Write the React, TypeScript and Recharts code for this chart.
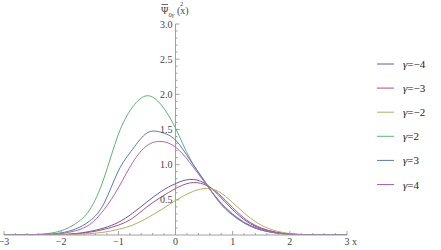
import React from 'react';
import { LineChart, Line, XAxis, YAxis, ReferenceLine, ReferenceDot } from 'recharts';

const xValues = [-3, -2.75, -2.5, -2.25, -2, -1.75, -1.5, -1.25, -1, -0.75, -0.5, -0.25, 0, 0.25, 0.5, 0.75, 1, 1.25, 1.5, 1.75, 2, 2.25, 2.5, 2.75, 3];

const gammaMinus4 = [0, 0, 0.001, 0.003, 0.008, 0.02, 0.05, 0.1, 0.18, 0.31, 0.47, 0.62, 0.73, 0.79, 0.74, 0.57, 0.36, 0.19, 0.09, 0.04, 0.015, 0.004, 0.001, 0, 0];
const gammaMinus3 = [0, 0, 0, 0.002, 0.005, 0.015, 0.04, 0.08, 0.14, 0.24, 0.4, 0.54, 0.66, 0.74, 0.72, 0.59, 0.39, 0.21, 0.1, 0.04, 0.015, 0.004, 0.001, 0, 0];
const gammaMinus2 = [0, 0, 0, 0.001, 0.003, 0.008, 0.02, 0.04, 0.08, 0.14, 0.24, 0.36, 0.49, 0.6, 0.66, 0.62, 0.46, 0.28, 0.14, 0.06, 0.02, 0.006, 0.001, 0, 0];
const gammaPlus2 = [0, 0, 0.005, 0.02, 0.06, 0.16, 0.36, 0.81, 1.43, 1.82, 1.98, 1.85, 1.52, 1.09, 0.78, 0.48, 0.28, 0.15, 0.07, 0.03, 0.01, 0.003, 0, 0, 0];
const gammaPlus3 = [0, 0, 0.003, 0.01, 0.03, 0.085, 0.2, 0.45, 0.91, 1.22, 1.45, 1.46, 1.35, 1.07, 0.77, 0.49, 0.29, 0.15, 0.07, 0.03, 0.01, 0.003, 0, 0, 0];
const gammaPlus4 = [0, 0, 0.002, 0.008, 0.02, 0.06, 0.15, 0.36, 0.67, 1.03, 1.27, 1.33, 1.25, 1.03, 0.76, 0.5, 0.3, 0.16, 0.08, 0.03, 0.01, 0.003, 0, 0, 0];

const seriesKeys = ['gm4', 'gm3', 'gm2', 'gp2', 'gp3', 'gp4'];
const seriesValues = [gammaMinus4, gammaMinus3, gammaMinus2, gammaPlus2, gammaPlus3, gammaPlus4];
const seriesLabels = ['−4', '−3', '−2', '2', '3', '4'];
const seriesColors = ['#5c5caa', '#a65282', '#bcab62', '#5fb475', '#5a78ba', '#b262b6'];

const xTicks = [-3, -2, -1, 0, 1, 2, 3];
const xTickLabels = ['−3', '−2', '−1', '0', '1', '2', '3'];
const xMinorTicks = [-2.8, -2.6, -2.4, -2.2, -1.8, -1.6, -1.4, -1.2, -0.8, -0.6, -0.4, -0.2, 0.2, 0.4, 0.6, 0.8, 1.2, 1.4, 1.6, 1.8, 2.2, 2.4, 2.6, 2.8];
const yTicks = [0.5, 1, 1.5, 2, 2.5, 3];
const yTickLabels = ['0.5', '1.0', '1.5', '2.0', '2.5', '3.0'];
const yMinorTicks = [0.1, 0.2, 0.3, 0.4, 0.6, 0.7, 0.8, 0.9, 1.1, 1.2, 1.3, 1.4, 1.6, 1.7, 1.8, 1.9, 2.1, 2.2, 2.3, 2.4, 2.6, 2.7, 2.8, 2.9];

const data = xValues.map((x, i) => {
  const row: Record<string, number> = { x };
  seriesKeys.forEach((k, j) => {
    row[k] = seriesValues[j][i];
  });
  return row;
});

const AXIS = '#a0a0a0';
const TEXT = '#444';
const SERIF = 'Liberation Serif, Times New Roman, serif';

export default function App() {
  return (
    <div style={{ position: 'absolute', left: 0, top: 0, width: 441, height: 250, fontFamily: SERIF }}>
      <LineChart width={441} height={250} data={data} margin={{ top: 24, right: 94, bottom: 0, left: 4 }} style={{ fontFamily: SERIF }}>
        <XAxis
          type="number"
          dataKey="x"
          domain={[-3, 3]}
          ticks={xTicks}
          tickFormatter={(v: number) => xTickLabels[xTicks.indexOf(v)] ?? String(v)}
          height={15}
          tickSize={0}
          tickMargin={3}
          axisLine={{ stroke: AXIS }}
          tickLine={false}
          tick={{ fontSize: 10, fill: TEXT, fontFamily: SERIF }}
          interval={0}
          allowDataOverflow
        />
        <YAxis type="number" domain={[0, 3]} hide allowDataOverflow />
        <ReferenceLine segment={[{ x: 0, y: 0 }, { x: 0, y: 3 }]} stroke={AXIS} ifOverflow="visible" />
        {yTicks.map((v) => (
          <ReferenceLine key={'ym' + v} segment={[{ x: 0, y: v }, { x: 0.07, y: v }]} stroke={AXIS} ifOverflow="visible" />
        ))}
        {yMinorTicks.map((v) => (
          <ReferenceLine key={'yn' + v} segment={[{ x: 0, y: v }, { x: 0.035, y: v }]} stroke={AXIS} ifOverflow="visible" />
        ))}
        {xTicks.filter((v) => v !== 0).map((v) => (
          <ReferenceLine key={'xm' + v} segment={[{ x: v, y: 0 }, { x: v, y: 0.057 }]} stroke={AXIS} ifOverflow="visible" />
        ))}
        {xMinorTicks.map((v) => (
          <ReferenceLine key={'xn' + v} segment={[{ x: v, y: 0 }, { x: v, y: 0.028 }]} stroke={AXIS} ifOverflow="visible" />
        ))}
        {yTicks.map((v, i) => (
          <ReferenceDot
            key={'yl' + v}
            x={0}
            y={v}
            r={0}
            fill="none"
            stroke="none"
            ifOverflow="visible"
            label={{ value: yTickLabels[i], position: 'left', offset: 3, fill: TEXT, fontSize: 10, fontFamily: SERIF }}
          />
        ))}
        {seriesKeys.map((k, i) => (
          <Line
            key={k}
            type="natural"
            dataKey={k}
            stroke={seriesColors[i]}
            strokeWidth={1}
            dot={false}
            isAnimationActive={false}
          />
        ))}
      </LineChart>
      <svg width={441} height={250} style={{ position: 'absolute', left: 0, top: 0, pointerEvents: 'none', fontFamily: SERIF }}>
        <line x1={161.5} x2={168} y1={4.5} y2={4.5} stroke={TEXT} strokeWidth={0.8} />
        <text x={161} y={14} fontSize={10} fill={TEXT}>Ψ</text>
        <text x={168.5} y={16.5} fontSize={6.5} fill={TEXT}>0<tspan fontStyle="italic">γ</tspan></text>
        <text x={180} y={5.5} fontSize={6.5} fill={TEXT}>2</text>
        <text x={177} y={14} fontSize={10} fill={TEXT}>(x)</text>
        <text x={352} y={245} fontSize={10} fill={TEXT}>x</text>
        {seriesLabels.map((lab, i) => {
          const y = 64 + i * 24.1;
          return (
            <g key={lab}>
              <line x1={377} x2={394} y1={y} y2={y} stroke={seriesColors[i]} strokeWidth={1} />
              <text x={403} y={y + 4} fontSize={11} fill="#222">
                <tspan fontStyle="italic">γ</tspan>={lab}
              </text>
            </g>
          );
        })}
      </svg>
    </div>
  );
}
